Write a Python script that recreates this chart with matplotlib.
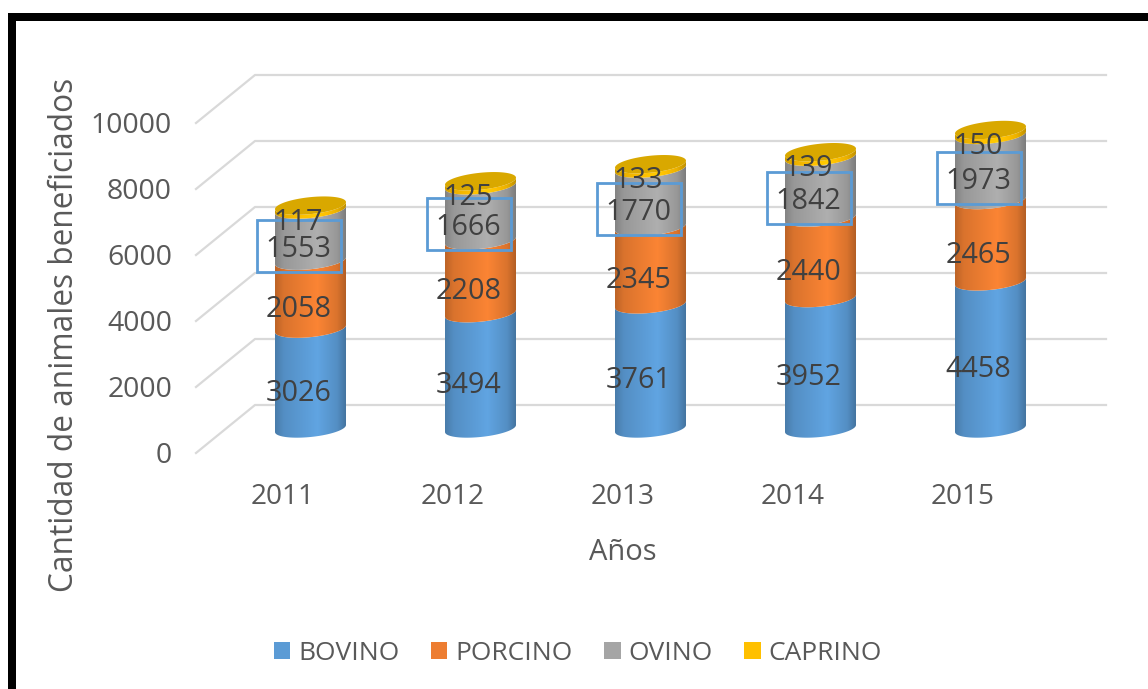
import numpy as np
import matplotlib
matplotlib.use("Agg")
import matplotlib.pyplot as plt
from matplotlib.patches import Polygon, Rectangle, Patch

# --- DATA ---
years = ["2011", "2012", "2013", "2014", "2015"]
bovino = [3026, 3494, 3761, 3952, 4458]
porcino = [2058, 2208, 2345, 2440, 2465]
ovino = [1553, 1666, 1770, 1842, 1973]
caprino = [117, 125, 133, 139, 150]
y_ticks = [0, 2000, 4000, 6000, 8000, 10000]
series_names = ["BOVINO", "PORCINO", "OVINO", "CAPRINO"]

# --- CONFIG ---
colors = ["#5B9BD5", "#ED7D31", "#A5A5A5", "#FFC000"]
cap_color = "#D9A800"
grid_color = "#D9D9D9"
text_color = "#595959"
label_color = "#404040"
font = ["Open Sans", "DejaVu Sans"]
plt.rcParams["font.family"] = font

W, H = 1148, 689
pitch = 170.0    # pixels per category
scale = 0.033    # pixels per unit of value
x0_px, y0_px = 310.5, 428.5  # where category 0 / value 0 sit on the canvas
a_px, b_px, tilt_px = 35.5, 8.5, 3.5  # cylinder ellipse


# pixel lengths -> data lengths
def dx(px):
    return px / pitch


def dv(px):
    return px / scale


fig = plt.figure(figsize=(W / 100, H / 100), dpi=100)
ax = fig.add_axes([0, 0, 1, 1])
xlim = (-x0_px / pitch, (W - x0_px) / pitch)
ylim = ((y0_px - H) / scale, y0_px / scale)
ax.axis("off")


# --- Cylinder pieces ---
def front_arc(x, v, reverse=False):
    t = np.linspace(np.pi, 2 * np.pi, 40)
    xs = x + dx(a_px) * np.cos(t)
    vs = v + dv(b_px) * np.sin(t) + dv(tilt_px) * np.cos(t)
    pts = np.column_stack([xs, vs])
    return pts[::-1] if reverse else pts


def shade(hex_color):
    # horizontal light falloff of the cylinder
    base = np.array(matplotlib.colors.to_rgb(hex_color))
    pos = np.array([0.0, 0.12, 0.6, 0.88, 1.0])
    fac = np.array([0.80, 0.92, 1.06, 0.92, 0.76])
    t = np.linspace(0, 1, 71)
    f = np.interp(t, pos, fac)
    return np.clip(base[None, None, :] * f[None, :, None], 0, 1)


def segment(x, v_low, v_high, color, z):
    pts = np.vstack([front_arc(x, v_low), front_arc(x, v_high, reverse=True)])
    poly = Polygon(pts, closed=True, transform=ax.transData, facecolor="none", edgecolor="none")
    ax.add_patch(poly)
    extent = [x - dx(a_px), x + dx(a_px), v_low - dv(b_px + tilt_px), v_high + dv(b_px + tilt_px)]
    im = ax.imshow(shade(color), extent=extent, aspect="auto", zorder=z, interpolation="bilinear")
    im.set_clip_path(poly)


# --- Gridlines of the back wall, with the floor-side stub ---
for v in y_ticks:
    ax.plot([dx(196 - x0_px), dx(255 - x0_px), dx(1106 - x0_px)],
            [v - dv(24.5), v + dv(23.5), v + dv(23.5)],
            color=grid_color, lw=1.6, zorder=1, solid_joinstyle="miter")
    ax.text(dx(172 - x0_px), v - dv(27), str(v), ha="right", va="center",
            fontsize=20.4, color=text_color)

# --- Stacked cylinders ---
stack = np.array([bovino, porcino, ovino, caprino], dtype=float)
for i, year in enumerate(years):
    bottom = 0.0
    for s in range(4):
        segment(i, bottom, bottom + stack[s, i], colors[s], 3 + s)
        bottom += stack[s, i]

    # top cap
    t = np.linspace(0, 2 * np.pi, 80)
    cap = np.column_stack([i + dx(a_px) * np.cos(t),
                           bottom + dv(b_px) * np.sin(t) + dv(tilt_px) * np.cos(t)])
    ax.add_patch(Polygon(cap, closed=True, facecolor=cap_color, edgecolor="none", zorder=8))

    # value labels
    bottom = 0.0
    for s in range(4):
        mid = bottom + stack[s, i] / 2
        ax.text(i + dx(-12), mid - dv(14.5), f"{int(stack[s, i])}", ha="center", va="center",
                fontsize=20.7, color=label_color, zorder=11)
        if s == 2:
            ax.add_patch(Rectangle((i + dx(-12 - 42), mid - dv(11) - dv(26)), dx(84), dv(52),
                                   fill=False, edgecolor="#5B9BD5", lw=2, zorder=10))
        bottom += stack[s, i]

    ax.text(i + dx(-28), dv(-68.5), year, ha="center", va="center", fontsize=20.2, color=text_color)

# --- Axis titles ---
ax.text(dx(622.5 - x0_px), dv(y0_px - 553), "Años", ha="center", va="center",
        fontsize=21, color=text_color)
ax.text(dx(64 - x0_px), dv(y0_px - 335), "Cantidad de animales beneficiados", rotation=90,
        ha="center", va="center", fontsize=22.8, color=text_color)

# --- Legend ---
handles = [Patch(facecolor=c, edgecolor="none") for c in colors]
ax.legend(handles, series_names, loc="center", ncol=4, frameon=False, fontsize=19,
          labelcolor=text_color, handlelength=0.62, handleheight=0.62, handletextpad=0.3,
          columnspacing=1.2, bbox_to_anchor=(578 / W, 1 - 653 / H),
          bbox_transform=fig.transFigure, borderpad=0, borderaxespad=0)

ax.set_xlim(xlim)
ax.set_ylim(ylim)

# --- Black picture frame: top and left only ---
fig.add_artist(Rectangle((8 / W, 0), 8 / W, 1 - 13 / H, transform=fig.transFigure,
                         facecolor="black", edgecolor="none"))
fig.add_artist(Rectangle((8 / W, 1 - 21 / H), 1 - 8 / W, 8 / H, transform=fig.transFigure,
                         facecolor="black", edgecolor="none"))

fig.savefig("out.png", dpi=100)
